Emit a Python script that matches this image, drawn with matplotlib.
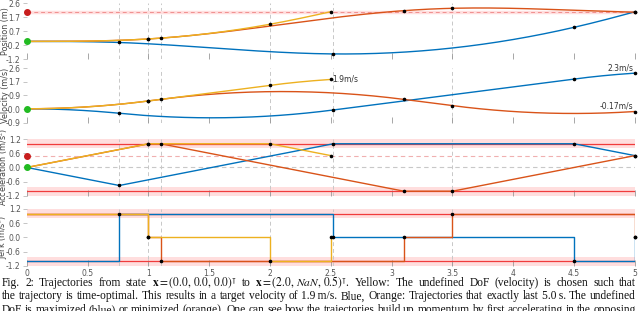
import numpy as np
import matplotlib
matplotlib.use('Agg')
import matplotlib.pyplot as plt

plt.rcParams['mathtext.fontset'] = 'stix'

# jerk profiles: switch times and jerk after each switch
t_blue = [0.0, 0.76, 2.52, 4.5, 5.0]
j_blue = [-1, 1, 0, -1, 0]
t_orange = [0.0, 1.0, 1.1, 3.1, 3.5, 5.0]
j_orange = [1, 0, -1, 0, 1, 0]
t_yellow = [0.0, 1.0, 2.0, 2.5]
j_yellow = [1, 0, -1, 0]

start_state = [0.0, 0.0, 0.0]
target_pos = 2.0
target_acc = 0.5
acc_limit = 1.0
jerk_limit = 1.0

labels = ['Position (m)', 'Velocity (m/s)', 'Acceleration (m/s$^2$)', 'Jerk (m/s$^3$)']
ytick_vals = [np.linspace(-1.2, 2.6, 5), np.linspace(-0.9, 2.6, 5),
              np.linspace(-1.2, 1.2, 5), np.linspace(-1.2, 1.2, 5)]
ytick_labels = [['-1.2', '-0.2', '0.7', '1.7', '2.6'],
                ['-0.9', '-0.0', '0.9', '1.7', '2.6'],
                ['-1.2', '-0.6', '0.0', '0.6', '1.2'],
                ['-1.2', '-0.6', '0.0', '0.6', '1.2']]
xticks = [0, 0.5, 1, 1.5, 2, 2.5, 3, 3.5, 4, 4.5, 5]
xtick_labels = ['0', '0.5', '1', '1.5', '2', '2.5', '3', '3.5', '4', '4.5', '5']
vlines = [0.76, 1.0, 1.1, 2.0, 2.52, 3.5]

BLUE = '#0072BD'
ORANGE = '#D95319'
YELLOW = '#EDB120'
RED = '#f03c3c'
PINK = '#ffdede'


def integrate(t_sw, j_sw, n=80):
    p, v, a = start_state
    ts, ps, vs, acs = [], [], [], []
    knots = [(t_sw[0], p, v, a)]
    for k in range(len(t_sw) - 1):
        T = t_sw[k + 1] - t_sw[k]
        j = j_sw[k]
        tau = np.linspace(0, T, n)
        ts.append(t_sw[k] + tau)
        ps.append(p + v * tau + a * tau ** 2 / 2 + j * tau ** 3 / 6)
        vs.append(v + a * tau + j * tau ** 2 / 2)
        acs.append(a + j * tau)
        p, v, a = ps[-1][-1], vs[-1][-1], acs[-1][-1]
        knots.append((t_sw[k + 1], p, v, a))
    return np.concatenate(ts), np.concatenate(ps), np.concatenate(vs), np.concatenate(acs), np.array(knots)


fig = plt.figure(figsize=(6.4, 3.11), dpi=100)
boxes = [[0.042, 0.810, 0.950, 0.180],
         [0.042, 0.605, 0.950, 0.176],
         [0.042, 0.370, 0.950, 0.183],
         [0.042, 0.145, 0.950, 0.183]]
axes = [fig.add_axes(b) for b in boxes]

for i, ax in enumerate(axes):
    for s in ax.spines.values():
        s.set_visible(False)
    ax.set_xlim(0, 5)
    ax.set_ylim(ytick_vals[i][0], ytick_vals[i][-1])
    ax.set_yticks(ytick_vals[i])
    ax.set_yticklabels(ytick_labels[i])
    ax.set_xticks(xticks)
    if i == 3:
        ax.set_xticklabels(xtick_labels)
    else:
        ax.set_xticklabels([])
    ax.tick_params(axis='y', direction='out', length=3, width=0.6, color='#bbbbbb',
                   labelsize=5.5, labelcolor='#555555', pad=1.5)
    ax.tick_params(axis='x', direction='in', length=4, width=0.6, color='#999999',
                   labelsize=5.5, labelcolor='#555555', pad=2)
    ax.set_ylabel(labels[i], fontsize=5.8, color='#444444')
    ax.yaxis.set_label_coords(-0.027, 0.5)
    for tv in vlines:
        ax.axvline(tv, color='#c8c8c8', lw=0.7, dashes=(4, 3), zorder=1)

# limits and targets
ax = axes[0]
ax.axhline(target_pos, color=PINK, lw=2.5, zorder=1)
ax.axhline(target_pos, color='#f09090', lw=0.7, dashes=(4, 3), zorder=1)

ax = axes[2]
for s in (1, -1):
    ax.axhspan(s * (acc_limit - 0.16), s * 1.2, color=PINK, lw=0, zorder=0)
    ax.axhline(s * acc_limit, color=RED, lw=0.9, zorder=2)
ax.axhline(target_acc, color='#f0b0b0', lw=0.8, dashes=(4, 3), zorder=1)
ax.axhline(0, color='#c8c8c8', lw=0.8, dashes=(4, 3), zorder=1)

ax = axes[3]
for s in (1, -1):
    ax.axhspan(s * (jerk_limit - 0.16), s * 1.2, color=PINK, lw=0, zorder=0)
    ax.axhline(s * jerk_limit, color=RED, lw=0.9, zorder=2)

# trajectories
for t_sw, j_sw, col in [(t_blue, j_blue, BLUE), (t_orange, j_orange, ORANGE), (t_yellow, j_yellow, YELLOW)]:
    t, p, v, a, kn = integrate(t_sw, j_sw)
    axes[0].plot(t, p, color=col, lw=1.0, zorder=3)
    axes[1].plot(t, v, color=col, lw=1.0, zorder=3)
    axes[2].plot(t, a, color=col, lw=1.0, zorder=3)
    axes[3].plot(t_sw, j_sw, color=col, lw=1.0, drawstyle='steps-post', zorder=3)
    axes[0].plot(kn[1:, 0], kn[1:, 1], 'o', color='k', ms=1.6, zorder=4, clip_on=False)
    axes[1].plot(kn[1:, 0], kn[1:, 2], 'o', color='k', ms=1.6, zorder=4, clip_on=False)
    axes[2].plot(kn[1:, 0], kn[1:, 3], 'o', color='k', ms=1.6, zorder=4, clip_on=False)
    axes[3].plot(t_sw[1:], j_sw[1:], 'o', color='k', ms=1.6, zorder=4, clip_on=False)
    end_v = kn[-1, 2]
    if col == YELLOW:
        axes[1].text(kn[-1, 0] + 0.01, end_v, '%.1fm/s' % end_v, fontsize=5.5, color='#333333',
                     ha='left', va='center')
    else:
        axes[1].text(kn[-1, 0] - 0.01, end_v + 0.06, '%.2gm/s' % end_v, fontsize=5.5,
                     color='#333333', ha='right', va='bottom')

# start / target markers
for i in range(3):
    axes[i].plot(0, start_state[i], 'o', color='#22bb22', ms=4, zorder=5, clip_on=False)
axes[0].plot(0, target_pos, 'o', color='#c81e1e', ms=4, zorder=5, clip_on=False)
axes[2].plot(0, target_acc, 'o', color='#c81e1e', ms=4, zorder=5, clip_on=False)

# caption, justified
cap_lines = [
    ['Fig.', '2:', 'Trajectories', 'from', 'state', r'$\mathbf{x} = (0.0,\,0.0,\,0.0)^{\intercal}$',
     'to', r'$\mathbf{x} = (2.0,\,NaN,\,0.5)^{\intercal}$.', 'Yellow:', 'The', 'undefined', 'DoF',
     '(velocity)', 'is', 'chosen', 'such', 'that'],
    ['the', 'trajectory', 'is', 'time-optimal.', 'This', 'results', 'in', 'a', 'target', 'velocity',
     'of', '1.9\u2009m/s.', 'Blue,', 'Orange:', 'Trajectories', 'that', 'exactly', 'last', '5.0\u2009s.',
     'The', 'undefined'],
    ['DoF', 'is', 'maximized', '(blue)', 'or', 'minimized', '(orange).', 'One', 'can', 'see', 'how',
     'the', 'trajectories', 'build', 'up', 'momentum', 'by', 'first', 'accelerating', 'in', 'the',
     'opposing'],
]
cap_y = [0.081, 0.037, -0.007]
x_left, x_right = 2 / 640, 636 / 640

fig.canvas.draw()
renderer = fig.canvas.get_renderer()
fig_w = fig.bbox.width
for words, y in zip(cap_lines, cap_y):
    texts = [fig.text(0, y, w, fontsize=8.3, family='Liberation Serif', color='#111111',
                      va='baseline', ha='left') for w in words]
    widths = [t.get_window_extent(renderer).width / fig_w for t in texts]
    gap = (x_right - x_left - sum(widths)) / (len(words) - 1)
    x = x_left
    for t, w in zip(texts, widths):
        t.set_x(x)
        x += w + gap

fig.savefig('out.png', dpi=100)
